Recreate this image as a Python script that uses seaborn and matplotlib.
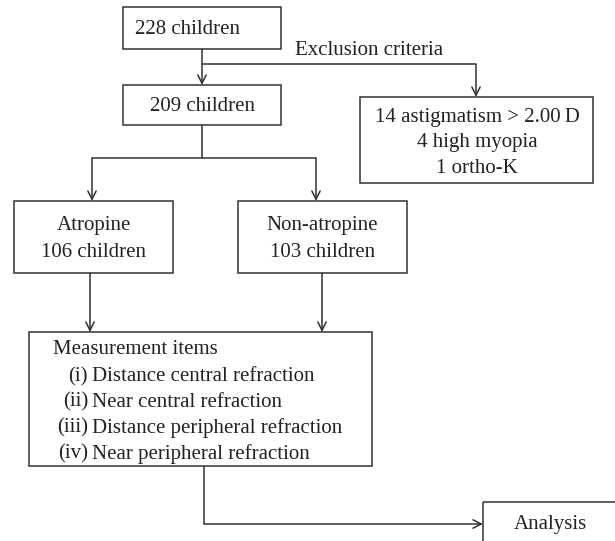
import seaborn as sns
import matplotlib.pyplot as plt
import matplotlib.patches as patches

# counts shown in the flow chart
total_children = 228
included_children = 209
group_names = ["Atropine", "Non-atropine"]
group_counts = [106, 103]
exclusion_counts = [14, 4, 1]
exclusion_reasons = ["astigmatism > 2.00\u2009D", "high myopia", "ortho-K"]
item_numerals = ["(i)", "(ii)", "(iii)", "(iv)"]
item_names = ["Distance central refraction", "Near central refraction",
              "Distance peripheral refraction", "Near peripheral refraction"]

sns.set_theme(style="white")
plt.rcParams['font.family'] = ['Liberation Serif', 'DejaVu Serif']

LC = '#333333'
FS = 15

fig = plt.figure(figsize=(6.15, 5.41), dpi=100)
ax = fig.add_axes([0, 0, 1, 1])
ax.set_xlim(0, 615)
ax.set_ylim(541, 0)
ax.axis('off')


def box(x0, y0, x1, y1):
    ax.add_patch(patches.Rectangle((x0, y0), x1 - x0, y1 - y0, fill=False,
                                   edgecolor=LC, lw=1.1))


def line(xs, ys):
    ax.plot(xs, ys, color=LC, lw=1.1, solid_capstyle='butt')


def arrow(x0, y0, x1, y1):
    ax.annotate('', xy=(x1, y1), xytext=(x0, y0),
                arrowprops=dict(arrowstyle='->', color=LC, lw=1.1,
                                mutation_scale=15, shrinkA=0, shrinkB=0))


def txt(x, y, s, ha='center'):
    # small downward nudge: va='center' counts the descender
    ax.text(x, y + 2.5, s, ha=ha, va='center', fontsize=FS, color='#222222')


# top boxes
box(123, 7, 281, 49)
txt(135, 27, f"{total_children} children", ha='left')
arrow(202, 49, 202, 85)
box(123, 85, 281, 125)
txt(202, 104, f"{included_children} children")

# exclusion branch
line([202, 476], [64, 64])
arrow(476, 64, 476, 97)
txt(295, 48, "Exclusion criteria", ha='left')
box(360, 97, 593, 183)
for i, (n, r) in enumerate(zip(exclusion_counts, exclusion_reasons)):
    txt(477, 115 + i * 25.5, f"{n} {r}")

# groups
line([202, 202], [125, 158])
line([92, 316], [158, 158])
gx = [(14, 173), (238, 407)]
arrow(92, 158, 92, 201)
arrow(316, 158, 316, 201)
for (x0, x1), name, cnt in zip(gx, group_names, group_counts):
    box(x0, 201, x1, 273)
    cx = (x0 + x1) / 2
    txt(cx, 223, name)
    txt(cx, 250, f"{cnt} children")

# measurement items
arrow(90, 273, 90, 332)
arrow(322, 273, 322, 332)
box(29, 332, 372, 466)
txt(53, 347, "Measurement items", ha='left')
for i, (num, name) in enumerate(zip(item_numerals, item_names)):
    y = 374 + i * 25.7
    txt(88, y, num, ha='right')
    txt(92, y, name, ha='left')

# analysis
line([204, 204], [466, 524])
arrow(204, 524, 483, 524)
box(483, 502, 700, 600)
txt(514, 522, "Analysis", ha='left')

fig.savefig('out.png', dpi=100)
